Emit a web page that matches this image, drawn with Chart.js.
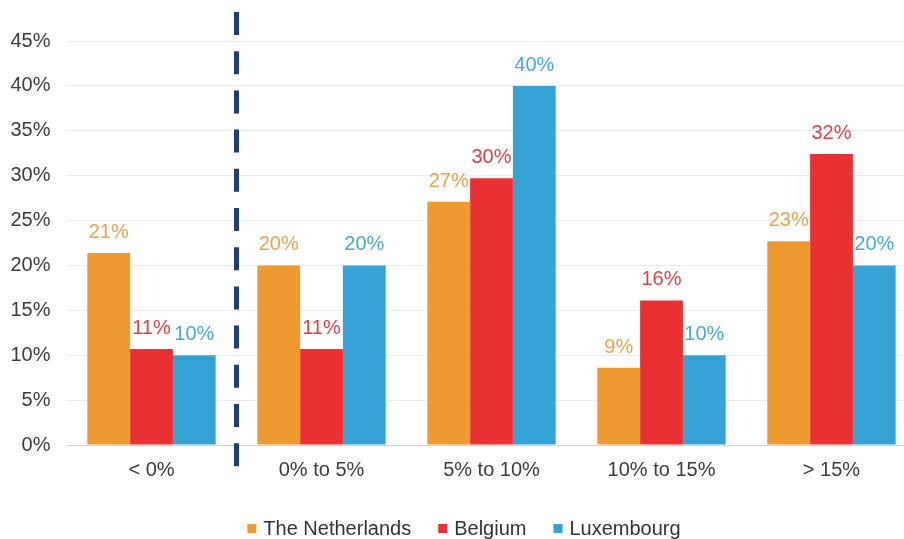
<!DOCTYPE html>
<html>
<head>
<meta charset="utf-8">
<script src="https://cdn.jsdelivr.net/npm/chart.js@4/dist/chart.umd.min.js"></script>
<style>
  html, body { margin: 0; padding: 0; background: #fff; overflow: hidden; }
  #wrap { width: 928px; height: 539px; }
</style>
</head>
<body>
<div id="wrap"><canvas id="c" width="928" height="539"></canvas></div>
<script>
// Return ranges and share of each country
const categories = ['< 0%', '0% to 5%', '5% to 10%', '10% to 15%', '> 15%'];
const netherlands = [21.4, 20.0, 27.1, 8.6, 22.7];
const belgium = [10.7, 10.7, 29.7, 16.1, 32.4];
const luxembourg = [10.0, 20.0, 40.0, 10.0, 20.0];
const yTicks = [0, 5, 10, 15, 20, 25, 30, 35, 40, 45];

const seriesColors = ['#EE9A30', '#E93032', '#36A3D6'];
const labelColors = ['#E8A44C', '#DE4249', '#48A9D4'];
const FONT = '"Liberation Sans", Arial, sans-serif';

// Value labels above each bar, in the colour of its series
const valueLabels = {
  id: 'valueLabels',
  afterDatasetsDraw(chart) {
    const ctx = chart.ctx;
    ctx.save();
    ctx.font = '20px ' + FONT;
    ctx.textAlign = 'center';
    ctx.textBaseline = 'alphabetic';
    chart.data.datasets.forEach((ds, di) => {
      chart.getDatasetMeta(di).data.forEach((bar, i) => {
        ctx.fillStyle = labelColors[di];
        ctx.fillText(Math.round(ds.data[i]) + '%', bar.x, bar.y - 15);
      });
    });
    ctx.restore();
  }
};

// Dashed divider between the negative range and the rest
const divider = {
  id: 'divider',
  afterDatasetsDraw(chart) {
    const x = chart.scales.x;
    const px = (x.getPixelForTick(0) + x.getPixelForTick(1)) / 2;
    const ctx = chart.ctx;
    ctx.save();
    ctx.strokeStyle = '#1E3C78';
    ctx.lineWidth = 5;
    ctx.setLineDash([23, 16.2]);
    ctx.beginPath();
    ctx.moveTo(px, 12);
    ctx.lineTo(px, 468);
    ctx.stroke();
    ctx.restore();
  }
};

// Compact legend row: small square, short gap, series name
const legendRow = {
  id: 'legendRow',
  afterDraw(chart) {
    const ctx = chart.ctx;
    const box = 9, gap = 7, spacing = 27, baseline = 535;
    ctx.save();
    ctx.font = '20px ' + FONT;
    ctx.textBaseline = 'alphabetic';
    ctx.textAlign = 'left';
    const items = chart.data.datasets.map(ds => ({
      text: ds.label, color: ds.backgroundColor, w: ctx.measureText(ds.label).width
    }));
    const total = items.reduce((s, it) => s + box + gap + it.w, 0) + spacing * (items.length - 1);
    let x = chart.width / 2 - total / 2;
    items.forEach(it => {
      ctx.fillStyle = it.color;
      ctx.fillRect(x, baseline - 11, box, box);
      ctx.fillStyle = '#333333';
      ctx.fillText(it.text, x + box + gap, baseline);
      x += box + gap + it.w + spacing;
    });
    ctx.restore();
  }
};

new Chart(document.getElementById('c'), {
  type: 'bar',
  data: {
    labels: categories,
    datasets: [
      { label: 'The Netherlands', data: netherlands, backgroundColor: seriesColors[0] },
      { label: 'Belgium', data: belgium, backgroundColor: seriesColors[1] },
      { label: 'Luxembourg', data: luxembourg, backgroundColor: seriesColors[2] }
    ]
  },
  options: {
    responsive: false,
    animation: false,
    devicePixelRatio: 1,
    layout: { padding: { top: 41, right: 11.5, left: 4, bottom: 44 } },
    datasets: { bar: { barPercentage: 1.0, categoryPercentage: 0.755 } },
    scales: {
      y: {
        min: 0, max: 45,
        afterBuildTicks(scale) { scale.ticks = yTicks.map(v => ({ value: v })); },
        afterFit(scale) { scale.width = 62.5; },
        ticks: {
          callback: v => v + '%',
          color: '#3c3c3c',
          font: { size: 20, family: FONT },
          padding: 16
        },
        grid: { color: '#ebebeb', drawTicks: false },
        border: { display: false }
      },
      x: {
        ticks: {
          color: '#3c3c3c',
          font: { size: 20, family: FONT },
          padding: 13
        },
        grid: { display: false, drawTicks: false },
        border: { color: '#d2d2d2', width: 1 }
      }
    },
    plugins: {
      legend: { display: false },
      tooltip: { enabled: false }
    }
  },
  plugins: [valueLabels, divider, legendRow]
});
</script>
</body>
</html>
